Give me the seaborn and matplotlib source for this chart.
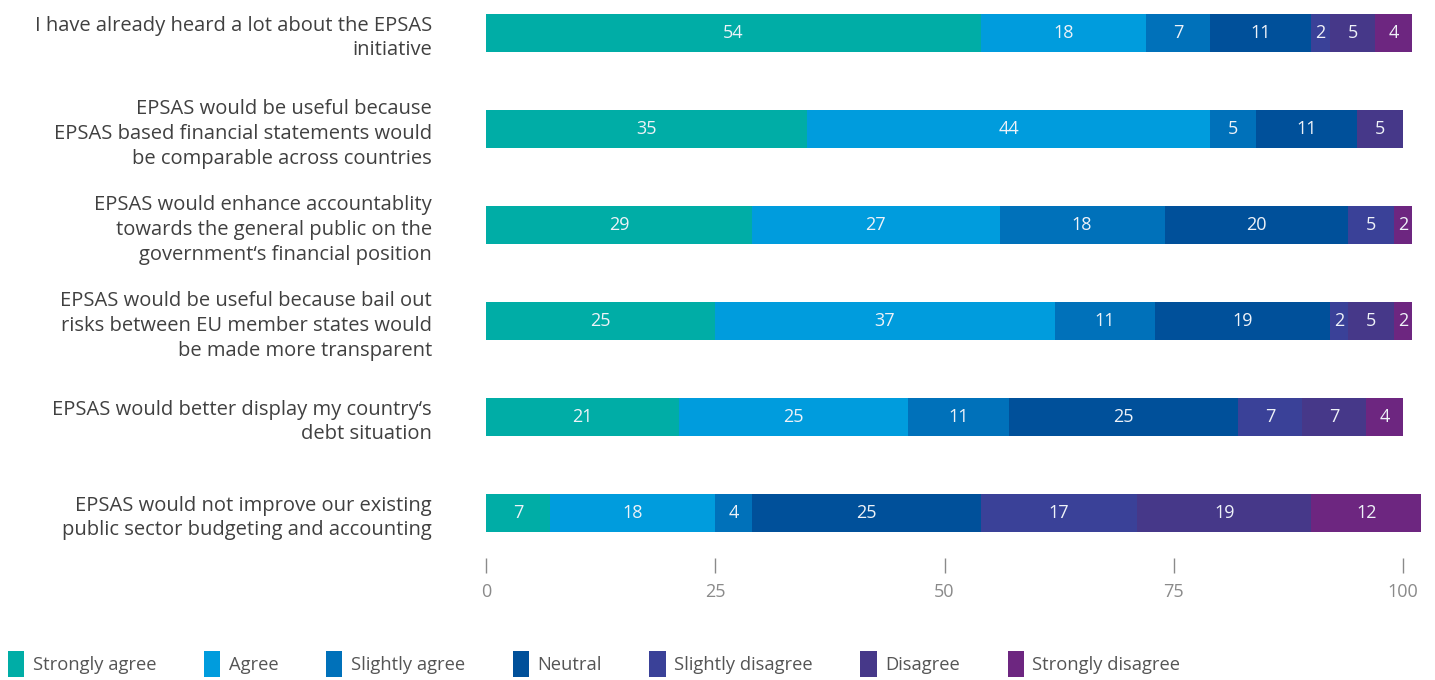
import matplotlib
matplotlib.use("Agg")
import matplotlib.pyplot as plt
from matplotlib.patches import Patch
import numpy as np
import pandas as pd
import seaborn as sns

# Survey statements (one bar each, top to bottom)
statements = [
    "I have already heard a lot about the EPSAS\ninitiative",
    "EPSAS would be useful because\nEPSAS based financial statements would\nbe comparable across countries",
    "EPSAS would enhance accountablity\ntowards the general public on the\ngovernment‘s financial position",
    "EPSAS would be useful because bail out\nrisks between EU member states would\nbe made more transparent",
    "EPSAS would better display my country‘s\ndebt situation",
    "EPSAS would not improve our existing\npublic sector budgeting and accounting",
]

responses = ["Strongly agree", "Agree", "Slightly agree", "Neutral",
             "Slightly disagree", "Disagree", "Strongly disagree"]

# Share of respondents (%) per answer
strongly_agree = [54, 35, 29, 25, 21, 7]
agree = [18, 44, 27, 37, 25, 18]
slightly_agree = [7, 5, 18, 11, 11, 4]
neutral = [11, 11, 20, 19, 25, 25]
slightly_disagree = [2, 0, 5, 2, 7, 17]
disagree = [5, 5, 0, 5, 7, 19]
strongly_disagree = [4, 0, 2, 2, 4, 12]

x_ticks = [0, 25, 50, 75, 100]

palette = ["#00ADA6", "#009CDD", "#0071BA", "#00509A",
           "#3A4198", "#463889", "#6D2680"]

df = pd.DataFrame(
    {
        "Strongly agree": strongly_agree,
        "Agree": agree,
        "Slightly agree": slightly_agree,
        "Neutral": neutral,
        "Slightly disagree": slightly_disagree,
        "Disagree": disagree,
        "Strongly disagree": strongly_disagree,
    },
    index=statements,
)[responses]
cum = df.cumsum(axis=1)

sns.set_theme(style="white")
plt.rcParams["font.family"] = ["Open Sans", "DejaVu Sans"]

W, H = 1435, 680
fig = plt.figure(figsize=(W / 100, H / 100), dpi=100)
x0, x_end = 486, 486 + 102 * 9.17
ax = fig.add_axes([x0 / W, 1 - 558 / H, (x_end - x0) / W, 558 / H])

# Stacked bars: draw cumulative totals from the widest down
for i in range(len(responses) - 1, -1, -1):
    r = responses[i]
    sns.barplot(x=cum[r].values, y=statements, color=palette[i],
                width=0.4, saturation=1, orient="h", errorbar=None,
                linewidth=0, ax=ax)

# Segment value labels
for row, stmt in enumerate(statements):
    left = 0
    for r in responses:
        v = df.loc[stmt, r]
        if v > 0:
            ax.text(left + v / 2, row, str(v), ha="center", va="center",
                    color="#eef2f8", fontsize=13)
        left += v

ax.set_xlim(0, 102)
ax.set_ylim(5 + 45 / 96, -33 / 96)
ax.set_xticks(x_ticks)
ax.set_xticklabels([str(t) for t in x_ticks])
ax.set_xlabel("")
ax.set_ylabel("")
ax.tick_params(axis="x", bottom=True, direction="out", length=10.8, width=1,
               color="#8a8a8a", pad=7, labelsize=13, labelcolor="#8a8a8a")
ax.tick_params(axis="y", left=False, length=0, pad=39, labelsize=14.5,
               labelcolor="#404040")
for lbl in ax.get_yticklabels():
    lbl.set_linespacing(1.32)
sns.despine(ax=ax, left=True, bottom=True)

handles = [Patch(facecolor=c, edgecolor="none", label=r)
           for r, c in zip(responses, palette)]
leg = fig.legend(handles=handles, loc="center left",
                 bbox_to_anchor=(8 / W, 1 - 664 / H), ncol=7, frameon=False,
                 handlelength=0.9, handleheight=1.8, handletextpad=0.45,
                 columnspacing=2.6, fontsize=13.2, borderpad=0,
                 borderaxespad=0, labelcolor="#555555")

fig.savefig("out.png", dpi=100)
